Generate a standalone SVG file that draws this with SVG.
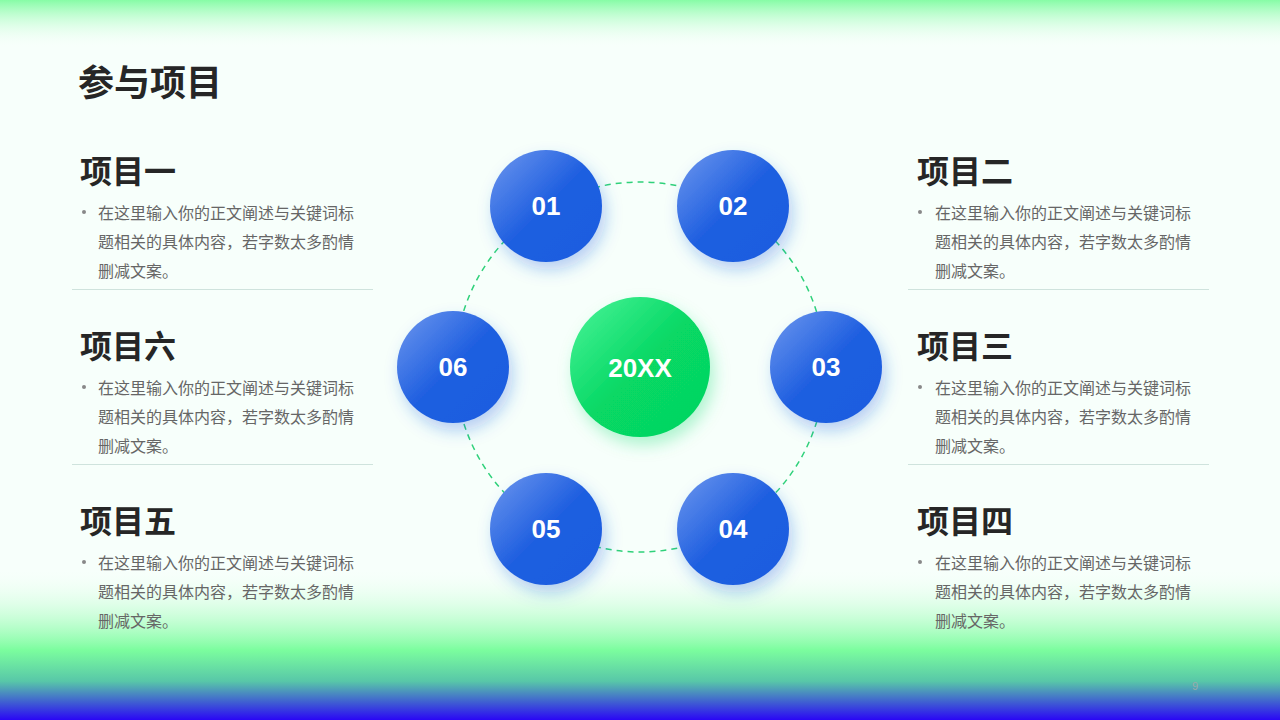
<svg xmlns="http://www.w3.org/2000/svg" width="1280" height="720" viewBox="0 0 1280 720">
<defs>
<linearGradient id="top" x1="0" y1="0" x2="0" y2="1"><stop offset="0" stop-color="#86fca6"/><stop offset="1" stop-color="#ffffff" stop-opacity="0"/></linearGradient>
<linearGradient id="bot" x1="0" y1="0" x2="0" y2="1"><stop offset="0" stop-color="#ffffff" stop-opacity="0"/><stop offset="0.55" stop-color="#7bfd9e"/><stop offset="0.75" stop-color="#58c7a8"/><stop offset="1" stop-color="#2a06f5"/></linearGradient>
<linearGradient id="blue" x1="0" y1="0" x2="1" y2="1"><stop offset="0" stop-color="#6f98ee"/><stop offset="0.5" stop-color="#1f5fe0"/><stop offset="1" stop-color="#1c5ce0"/></linearGradient>
<linearGradient id="green" x1="0" y1="0" x2="1" y2="1"><stop offset="0" stop-color="#4cf59a"/><stop offset="0.5" stop-color="#07d865"/><stop offset="1" stop-color="#05d560"/></linearGradient>
<filter id="sh" x="-50%" y="-50%" width="200%" height="200%"><feDropShadow dx="4" dy="8" stdDeviation="8" flood-color="#1f5fe0" flood-opacity="0.3"/></filter>
<filter id="shg" x="-50%" y="-50%" width="200%" height="200%"><feDropShadow dx="4" dy="8" stdDeviation="8" flood-color="#07d865" flood-opacity="0.3"/></filter>
</defs>
<style>
.t{font-family:"Noto Sans CJK SC","Liberation Sans",sans-serif;font-weight:bold;font-size:32px;fill:#262626}
.b{font-family:"Noto Sans CJK SC","Liberation Sans",sans-serif;font-size:16px;fill:#666}
.n{font-family:"Liberation Sans",Arial,sans-serif;font-weight:bold;font-size:26px;fill:#fff;text-anchor:middle}
.ln{stroke:#cfe3dd;stroke-width:1}
</style>
<rect width="1280" height="720" fill="#f7fffb"/>
<rect width="1280" height="50" fill="url(#top)"/>
<rect y="565" width="1280" height="155" fill="url(#bot)"/>
<text x="78" y="96" class="t" style="font-size:36px">参与项目</text>
<g id="connectors"><circle cx="640" cy="367" r="185" fill="none" stroke="#2fd17a" stroke-width="1.5" stroke-dasharray="6 5"/></g>
<g id="center"><circle cx="640" cy="367" r="70" fill="url(#green)" filter="url(#shg)"/><text x="640" y="377" class="n">20XX</text></g>
<g id="n01"><circle cx="546" cy="206" r="56" fill="url(#blue)" filter="url(#sh)"/><text x="546" y="215" class="n">01</text></g>
<g id="n02"><circle cx="733" cy="206" r="56" fill="url(#blue)" filter="url(#sh)"/><text x="733" y="215" class="n">02</text></g>
<g id="n03"><circle cx="826" cy="367" r="56" fill="url(#blue)" filter="url(#sh)"/><text x="826" y="376" class="n">03</text></g>
<g id="n04"><circle cx="733" cy="529" r="56" fill="url(#blue)" filter="url(#sh)"/><text x="733" y="538" class="n">04</text></g>
<g id="n05"><circle cx="546" cy="529" r="56" fill="url(#blue)" filter="url(#sh)"/><text x="546" y="538" class="n">05</text></g>
<g id="n06"><circle cx="453" cy="367" r="56" fill="url(#blue)" filter="url(#sh)"/><text x="453" y="376" class="n">06</text></g>
<g id="p1"><text x="80" y="183" class="t">项目一</text><circle cx="84" cy="212" r="2" fill="#888"/><text class="b"><tspan x="98" y="219">在这里输入你的正文阐述与关键词标</tspan><tspan x="98" y="248">题相关的具体内容，若字数太多酌情</tspan><tspan x="98" y="277">删减文案。</tspan></text><line x1="72" y1="289.5" x2="373" y2="289.5" class="ln"/></g>
<g id="p6"><text x="80" y="358" class="t">项目六</text><circle cx="84" cy="387" r="2" fill="#888"/><text class="b"><tspan x="98" y="394">在这里输入你的正文阐述与关键词标</tspan><tspan x="98" y="423">题相关的具体内容，若字数太多酌情</tspan><tspan x="98" y="452">删减文案。</tspan></text><line x1="72" y1="464.5" x2="373" y2="464.5" class="ln"/></g>
<g id="p5"><text x="80" y="533" class="t">项目五</text><circle cx="84" cy="562" r="2" fill="#888"/><text class="b"><tspan x="98" y="569">在这里输入你的正文阐述与关键词标</tspan><tspan x="98" y="598">题相关的具体内容，若字数太多酌情</tspan><tspan x="98" y="627">删减文案。</tspan></text></g>
<g id="p2"><text x="917" y="183" class="t">项目二</text><circle cx="920" cy="212" r="2" fill="#888"/><text class="b"><tspan x="935" y="219">在这里输入你的正文阐述与关键词标</tspan><tspan x="935" y="248">题相关的具体内容，若字数太多酌情</tspan><tspan x="935" y="277">删减文案。</tspan></text><line x1="908" y1="289.5" x2="1209" y2="289.5" class="ln"/></g>
<g id="p3"><text x="917" y="358" class="t">项目三</text><circle cx="920" cy="387" r="2" fill="#888"/><text class="b"><tspan x="935" y="394">在这里输入你的正文阐述与关键词标</tspan><tspan x="935" y="423">题相关的具体内容，若字数太多酌情</tspan><tspan x="935" y="452">删减文案。</tspan></text><line x1="908" y1="464.5" x2="1209" y2="464.5" class="ln"/></g>
<g id="p4"><text x="917" y="533" class="t">项目四</text><circle cx="920" cy="562" r="2" fill="#888"/><text class="b"><tspan x="935" y="569">在这里输入你的正文阐述与关键词标</tspan><tspan x="935" y="598">题相关的具体内容，若字数太多酌情</tspan><tspan x="935" y="627">删减文案。</tspan></text></g>
<text x="1195" y="690" style="font-family:'Liberation Sans',sans-serif;font-size:11px;fill:#9aa" text-anchor="middle">9</text>
</svg>
